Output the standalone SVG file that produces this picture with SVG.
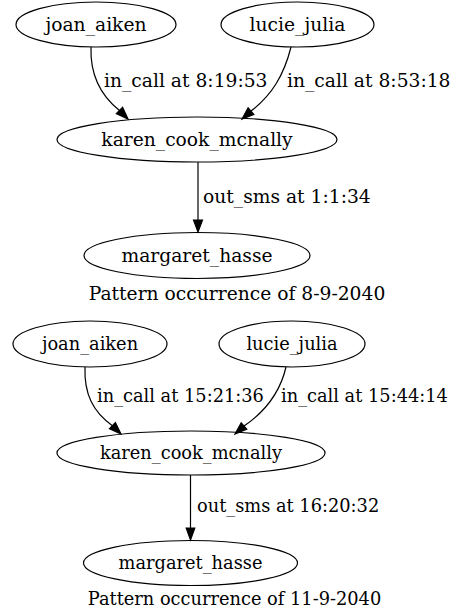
<svg xmlns="http://www.w3.org/2000/svg" width="452" height="612" viewBox="0 0 452 612">
<style>
.n ellipse{fill:none;stroke:#000;stroke-width:1.2}
text{font-family:"DejaVu Serif","Liberation Serif",serif;fill:#000}
.t text{font-size:18.7px}
.b text{font-size:17.8px}
.e path{fill:none;stroke:#000;stroke-width:1.2}
.e polygon{fill:#000;stroke:#000;stroke-width:1.2}
</style>
<rect width="452" height="612" fill="#fff"/>
<g class="t">
<g id="t_joan_aiken" class="n"><ellipse cx="96" cy="24.5" rx="80" ry="22.5"/><text x="96" y="30.5" text-anchor="middle">joan_aiken</text></g>
<g id="t_lucie_julia" class="n"><ellipse cx="297.5" cy="24.5" rx="76.5" ry="22.5"/><text x="297.5" y="30.5" text-anchor="middle">lucie_julia</text></g>
<g id="t_karen_cook_mcnally" class="n"><ellipse cx="197" cy="139.5" rx="140" ry="22.5"/><text x="197" y="145.5" text-anchor="middle">karen_cook_mcnally</text></g>
<g id="t_margaret_hasse" class="n"><ellipse cx="197" cy="255.5" rx="113" ry="23"/><text x="197" y="261.5" text-anchor="middle">margaret_hasse</text></g>
<g class="e">
<path d="M91,47 C90,75 100,95 119.5,110.5"/><polygon points="116.4,113.6 128,119 122.6,107.4"/>
<path d="M291,47 C284,75 272,95 251,111.1"/><polygon points="253.9,114.4 242,119 248.1,107.8"/>
<path d="M198,162 L198,220"/><polygon points="193.5,220 198,232 202.5,220"/>
</g>
<text x="104" y="87">in_call at 8:19:53</text>
<text x="287" y="87">in_call at 8:53:18</text>
<text x="203" y="203">out_sms at 1:1:34</text>
<text x="237" y="300" text-anchor="middle">Pattern occurrence of 8-9-2040</text>
</g>
<g class="b">
<g id="b_joan_aiken" class="n"><ellipse cx="90" cy="344" rx="77" ry="23"/><text x="90" y="350" text-anchor="middle">joan_aiken</text></g>
<g id="b_lucie_julia" class="n"><ellipse cx="292" cy="344" rx="73" ry="23"/><text x="292" y="350" text-anchor="middle">lucie_julia</text></g>
<g id="b_karen_cook_mcnally" class="n"><ellipse cx="191" cy="453" rx="134" ry="22"/><text x="191" y="459" text-anchor="middle">karen_cook_mcnally</text></g>
<g id="b_margaret_hasse" class="n"><ellipse cx="190.5" cy="563" rx="107" ry="22.5"/><text x="190.5" y="569" text-anchor="middle">margaret_hasse</text></g>
<g class="e">
<path d="M85,367 C84,394 93,412 112.4,425.7"/><polygon points="109.4,428.8 121,434 115.4,422.6"/>
<path d="M286,367 C280,393 266,411 244,426.1"/><polygon points="246.8,429.3 235,434 241.2,422.9"/>
<path d="M190.5,475 L190.5,528"/><polygon points="186.2,528 190.5,540 194.8,528"/>
</g>
<text x="97" y="402">in_call at 15:21:36</text>
<text x="281" y="402">in_call at 15:44:14</text>
<text x="197" y="512">out_sms at 16:20:32</text>
<text x="234.5" y="605" text-anchor="middle">Pattern occurrence of 11-9-2040</text>
</g>
</svg>
